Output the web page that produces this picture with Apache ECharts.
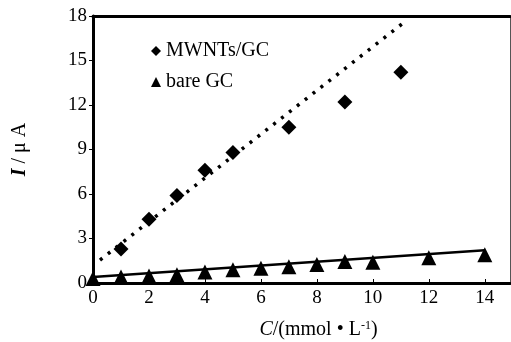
<!DOCTYPE html>
<html>
<head>
<meta charset="utf-8">
<script src="https://cdn.jsdelivr.net/npm/echarts@6/dist/echarts.min.js"></script>
<style>
  html, body { margin: 0; padding: 0; background: #fff; }
  #chart { width: 511px; height: 342px; }
</style>
</head>
<body>
<div id="chart"></div>
<script>
// MWNTs/GC electrode
var concMW = [1, 2, 3, 4, 5, 7, 9, 11];
var currentMW = [2.3, 4.3, 5.9, 7.6, 8.8, 10.5, 12.2, 14.2];
// bare GC electrode
var concBare = [0, 1, 2, 3, 4, 5, 6, 7, 8, 9, 10, 12, 14];
var currentBare = [0.3, 0.4, 0.47, 0.55, 0.75, 0.9, 1.0, 1.1, 1.25, 1.45, 1.4, 1.7, 1.9];
// fitted lines (end points)
var fitMWx = [0.25, 11.1];
var fitMWy = [1.55, 17.55];
var fitBarex = [0, 14];
var fitBarey = [0.4, 2.2];
// tick labels
var xTicks = [0, 2, 4, 6, 8, 10, 12, 14];
var yTicks = [0, 3, 6, 9, 12, 15, 18];

function pairs(xs, ys) {
    var res = [];
    for (var i = 0; i < xs.length; i++) {
        res.push([xs[i], ys[i]]);
    }
    return res;
}

var font = 'Liberation Serif';
var chart = echarts.init(document.getElementById('chart'));

var option = {
    animation: false,
    backgroundColor: '#fff',
    grid: { left: 93, right: 1, top: 16, bottom: 59, outerBoundsMode: 'none' },
    legend: {
        orient: 'vertical',
        left: 146,
        top: 36,
        itemWidth: 10,
        itemHeight: 10,
        itemGap: 11,
        data: ['MWNTs/GC', 'bare GC'],
        textStyle: { fontFamily: font, fontSize: 20, color: '#000' }
    },
    xAxis: [{
        type: 'value',
        min: 0,
        max: 14.9,
        interval: 2,
        splitLine: { show: false },
        axisLine: { onZero: false, lineStyle: { color: '#000', width: 3 } },
        axisTick: { inside: true, length: 4, customValues: xTicks, lineStyle: { color: '#000' } },
        axisLabel: { customValues: xTicks, margin: 6, fontFamily: font, fontSize: 19, color: '#000' },
        name: '{c|C}/(mmol • L{s|-1})',
        nameLocation: 'middle',
        nameGap: 37,
        nameTextStyle: {
            fontFamily: font, fontSize: 20, color: '#000', padding: [0, 0, 0, 34],
            rich: {
                c: { fontFamily: font, fontSize: 20, fontStyle: 'italic', color: '#000' },
                s: { fontFamily: font, fontSize: 12, color: '#000', verticalAlign: 'top', padding: [0, 0, 8, 0] }
            }
        }
    }, {
        type: 'value',
        position: 'top',
        min: 0,
        max: 14.9,
        splitLine: { show: false },
        axisLine: { show: true, onZero: false, lineStyle: { color: '#000', width: 3 } },
        axisTick: { show: false },
        axisLabel: { show: false }
    }],
    yAxis: [{
        type: 'value',
        min: 0,
        max: 18,
        interval: 3,
        splitLine: { show: false },
        axisLine: { onZero: false, lineStyle: { color: '#000', width: 3 } },
        axisTick: { length: 4, lineStyle: { color: '#000' } },
        axisLabel: { margin: 6, fontFamily: font, fontSize: 19, color: '#000' },
        name: '{i|I} / μ A',
        nameLocation: 'middle',
        nameGap: 63,
        nameTextStyle: {
            fontFamily: font, fontSize: 20, color: '#000',
            rich: {
                i: { fontFamily: font, fontSize: 20, fontStyle: 'italic', fontWeight: 'bold', color: '#000' }
            }
        }
    }, {
        type: 'value',
        position: 'right',
        min: 0,
        max: 18,
        splitLine: { show: false },
        axisLine: { show: true, onZero: false, lineStyle: { color: '#555', width: 1 } },
        axisTick: { show: false },
        axisLabel: { show: false }
    }],
    series: [{
        name: 'MWNTs/GC',
        type: 'scatter',
        symbol: 'diamond',
        symbolSize: 15,
        itemStyle: { color: '#000', opacity: 1 },
        data: pairs(concMW, currentMW),
        z: 5
    }, {
        name: 'bare GC',
        type: 'scatter',
        symbol: 'triangle',
        symbolSize: 15,
        itemStyle: { color: '#000', opacity: 1 },
        data: pairs(concBare, currentBare),
        z: 5
    }, {
        name: 'fitMW',
        type: 'line',
        showSymbol: false,
        symbol: 'none',
        lineStyle: { color: '#000', width: 3.5, type: [3, 7] },
        data: pairs(fitMWx, fitMWy)
    }, {
        name: 'fitBare',
        type: 'line',
        showSymbol: false,
        symbol: 'none',
        lineStyle: { color: '#000', width: 2.5 },
        data: pairs(fitBarex, fitBarey)
    }]
};
chart.setOption(option);
</script>
</body>
</html>
